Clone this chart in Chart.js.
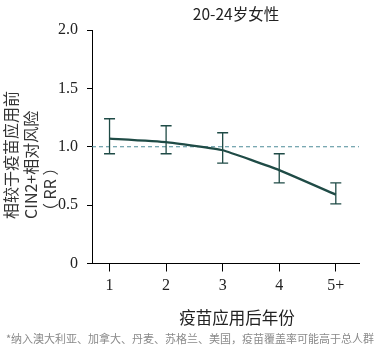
<!DOCTYPE html>
<html>
<head>
<meta charset="utf-8">
<script src="https://cdn.jsdelivr.net/npm/chart.js@4/dist/chart.umd.min.js"></script>
<style>
html,body{margin:0;padding:0;background:#fff;}
#c{display:block;}
</style>
</head>
<body>
<canvas id="c" width="377" height="357"></canvas>
<script>
// ---- data ----
const years = [1, 2, 3, 4, 5];
const yearLabels = ['1', '2', '3', '4', '5+'];
const rr = [1.07, 1.04, 0.97, 0.80, 0.59];
const rrUpper = [1.24, 1.18, 1.12, 0.94, 0.69];
const rrLower = [0.94, 0.94, 0.86, 0.69, 0.51];
const referenceValue = 1.0;
const yTicks = [0, 0.5, 1.0, 1.5, 2.0];

const chartTitle = '20-24岁女性';
const yTitleLines = ['相较于疫苗应用前', 'CIN2+相对风险', '（ RR ）'];
const xTitle = '疫苗应用后年份';
const footnote = '*纳入澳大利亚、加拿大、丹麦、苏格兰、美国，疫苗覆盖率可能高于总人群';

const CJK = '"Noto Sans CJK SC","Noto Sans",sans-serif';
const SERIF = '"Liberation Serif","DejaVu Serif",serif';
const lineColor = '#1f4b46';

const refLinePlugin = {
  id: 'refLine',
  beforeDatasetsDraw(chart) {
    const {ctx, chartArea, scales} = chart;
    const y = scales.y.getPixelForValue(referenceValue);
    ctx.save();
    ctx.strokeStyle = '#4d8b98';
    ctx.lineWidth = 1;
    ctx.setLineDash([4, 3]);
    ctx.beginPath();
    ctx.moveTo(chartArea.left, y);
    ctx.lineTo(chartArea.right, y);
    ctx.stroke();
    ctx.restore();
  }
};

const errorBarPlugin = {
  id: 'errorBars',
  afterDatasetsDraw(chart) {
    const {ctx, scales} = chart;
    ctx.save();
    ctx.strokeStyle = lineColor;
    ctx.lineWidth = 1.3;
    const cap = 5.5;
    years.forEach((x, i) => {
      const px = scales.x.getPixelForValue(x);
      const top = scales.y.getPixelForValue(rrUpper[i]);
      const bot = scales.y.getPixelForValue(rrLower[i]);
      ctx.beginPath();
      ctx.moveTo(px, top); ctx.lineTo(px, bot);
      ctx.moveTo(px - cap, top); ctx.lineTo(px + cap, top);
      ctx.moveTo(px - cap, bot); ctx.lineTo(px + cap, bot);
      ctx.stroke();
    });
    ctx.restore();
  }
};

const textPlugin = {
  id: 'texts',
  afterDraw(chart) {
    const {ctx} = chart;
    ctx.save();
    ctx.fillStyle = '#222';
    ctx.font = '15.5px ' + CJK;
    ctx.textAlign = 'center';
    ctx.textBaseline = 'middle';
    ctx.fillText(chartTitle, 236, 14);
    ctx.font = '16.5px ' + CJK;
    ctx.fillText(xTitle, 237, 318);
    ctx.fillStyle = '#8a8a8a';
    ctx.font = '11px ' + CJK;
    ctx.fillText(footnote, 190, 339);
    ctx.fillStyle = '#333';
    ctx.font = '16px ' + CJK;
    ctx.textAlign = 'left';
    const xs = [10.5, 30.5, 50];
    yTitleLines.forEach((t, i) => {
      ctx.save();
      ctx.translate(xs[i], 219);
      ctx.rotate(-Math.PI / 2);
      ctx.fillText(t, 0, 0);
      ctx.restore();
    });
    ctx.restore();
  }
};

new Chart(document.getElementById('c'), {
  type: 'line',
  data: {
    datasets: [{
      data: years.map((x, i) => ({x: x, y: rr[i]})),
      borderColor: lineColor,
      borderWidth: 2.3,
      pointRadius: 0,
      tension: 0.1,
      fill: false
    }]
  },
  options: {
    responsive: false,
    animation: false,
    layout: {padding: {left: 0, right: 18, top: 30, bottom: 0}},
    plugins: {legend: {display: false}, tooltip: {enabled: false}, title: {display: false}},
    scales: {
      x: {
        type: 'linear',
        min: 0.69,
        max: 5.41,
        afterFit(s) { s.height = 357 - 263.5; },
        afterBuildTicks(s) { s.ticks = years.map(v => ({value: v})); },
        grid: {drawOnChartArea: false, drawTicks: true, tickLength: 8, color: '#000', tickWidth: 1},
        border: {display: true, color: '#000', width: 1},
        ticks: {
          autoSkip: false,
          maxRotation: 0,
          padding: 5,
          color: '#222',
          font: {family: SERIF, size: 16},
          callback: (v, i) => yearLabels[i]
        }
      },
      y: {
        type: 'linear',
        min: 0,
        max: 2,
        afterFit(s) { s.width = 92; },
        afterBuildTicks(s) { s.ticks = yTicks.map(v => ({value: v})); },
        grid: {drawOnChartArea: false, drawTicks: true, tickLength: 5, color: '#000', tickWidth: 1},
        border: {display: true, color: '#000', width: 1},
        ticks: {
          padding: 9,
          color: '#222',
          font: {family: SERIF, size: 16},
          callback: v => v === 0 ? '0' : v.toFixed(1)
        }
      }
    }
  },
  plugins: [refLinePlugin, errorBarPlugin, textPlugin]
});
</script>
</body>
</html>
